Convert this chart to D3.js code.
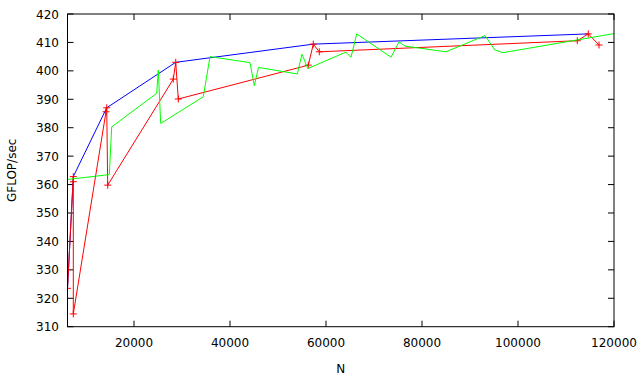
<!DOCTYPE html>
<html>
<head>
<meta charset="utf-8">
<script src="https://cdn.jsdelivr.net/npm/d3@7"></script>
<style>
  body { margin: 0; background: #fff; }
  svg { font-family: "DejaVu Sans", sans-serif; font-size: 12px; }
</style>
</head>
<body>
<div id="chart"></div>
<script>
// series
const blueN    = [6144, 7354, 14313, 28688, 57354, 114646];
const blueGf   = [323.5, 362.8, 387.0, 403.0, 409.4, 413.0];

const redN     = [6144, 7354, 7354, 7354, 14167, 14313, 14521, 28188, 28688, 29229,
                  56313, 57354, 58604, 112354, 114646, 116875];
const redGf    = [323.5, 362.8, 361.0, 314.5, 385.6, 387.0, 359.8, 397.1, 403.0, 390.1,
                  402.0, 409.4, 406.7, 410.6, 413.0, 409.1];

const greenN   = [6144, 14854, 15354, 24729, 25063, 25563, 34438, 35833, 44167, 45063,
                  45938, 54021, 55000, 56208, 63604, 64167, 65208, 66396, 73542, 75208,
                  76458, 85000, 93125, 95208, 96875, 120000];
const greenGf  = [361.8, 363.5, 380.3, 392.1, 400.3, 381.5, 390.9, 405.0, 402.9, 394.8,
                  401.2, 398.9, 405.9, 400.8, 406.2, 406.5, 404.8, 413.0, 404.8, 410.2,
                  408.7, 406.7, 412.4, 407.3, 406.4, 413.1];

const xTicks = [20000, 40000, 60000, 80000, 100000, 120000];
const yTicks = [310, 320, 330, 340, 350, 360, 370, 380, 390, 400, 410, 420];

const width = 638, height = 381;
const margin = { left: 67.5, right: 24, top: 14, bottom: 54.3 };

const svg = d3.select("#chart").append("svg")
    .attr("width", width)
    .attr("height", height);

const x = d3.scaleLinear().domain([6144, 120000]).range([margin.left, width - margin.right]);
const y = d3.scaleLinear().domain([310, 420]).range([height - margin.bottom, margin.top]);

const zip = (a, b) => a.map((v, i) => [v, b[i]]);

svg.append("clipPath").attr("id", "clip")
  .append("rect")
    .attr("x", x.range()[0]).attr("y", y.range()[1])
    .attr("width", x.range()[1] - x.range()[0])
    .attr("height", y.range()[0] - y.range()[1]);

// ticks (mirrored on all sides, pointing in)
const tl = 6;
const ticks = svg.append("g").attr("stroke", "#000").attr("stroke-width", 1);
xTicks.forEach(t => {
    ticks.append("line").attr("x1", x(t)).attr("x2", x(t)).attr("y1", y.range()[0]).attr("y2", y.range()[0] - tl);
    ticks.append("line").attr("x1", x(t)).attr("x2", x(t)).attr("y1", y.range()[1]).attr("y2", y.range()[1] + tl);
});
yTicks.forEach(t => {
    ticks.append("line").attr("x1", x.range()[0]).attr("x2", x.range()[0] + tl).attr("y1", y(t)).attr("y2", y(t));
    ticks.append("line").attr("x1", x.range()[1]).attr("x2", x.range()[1] - tl).attr("y1", y(t)).attr("y2", y(t));
});

svg.append("g").selectAll("text").data(xTicks).join("text")
    .attr("x", d => x(d)).attr("y", 347)
    .attr("text-anchor", "middle")
    .text(d => d);

svg.append("g").selectAll("text").data(yTicks).join("text")
    .attr("x", 59).attr("y", d => y(d) + 4.5)
    .attr("text-anchor", "end")
    .text(d => d);

svg.append("text").attr("x", (x.range()[0] + x.range()[1]) / 2).attr("y", 373)
    .attr("text-anchor", "middle").text("N");

svg.append("text")
    .attr("transform", "translate(16," + (y.range()[0] + y.range()[1]) / 2 + ") rotate(-90)")
    .attr("text-anchor", "middle").text("GFLOP/sec");

const line = d3.line().x(d => x(d[0])).y(d => y(d[1]));
const plots = svg.append("g").attr("clip-path", "url(#clip)");

plots.append("path").datum(zip(blueN, blueGf))
    .attr("d", line).attr("fill", "none").attr("stroke", "#0000ff");

plots.append("path").datum(zip(redN, redGf))
    .attr("d", line).attr("fill", "none").attr("stroke", "#ff0000");

plots.append("g").selectAll("path").data(zip(redN, redGf)).join("path")
    .attr("d", d => {
        const cx = x(d[0]), cy = y(d[1]);
        return `M${cx - 3.5},${cy}H${cx + 3.5}M${cx},${cy - 3.5}V${cy + 3.5}`;
    })
    .attr("stroke", "#ff0000");

plots.append("path").datum(zip(greenN, greenGf))
    .attr("d", line).attr("fill", "none").attr("stroke", "#00ff00");

// border
svg.append("rect")
    .attr("x", x.range()[0]).attr("y", y.range()[1])
    .attr("width", x.range()[1] - x.range()[0])
    .attr("height", y.range()[0] - y.range()[1])
    .attr("fill", "none").attr("stroke", "#000");
</script>
</body>
</html>
